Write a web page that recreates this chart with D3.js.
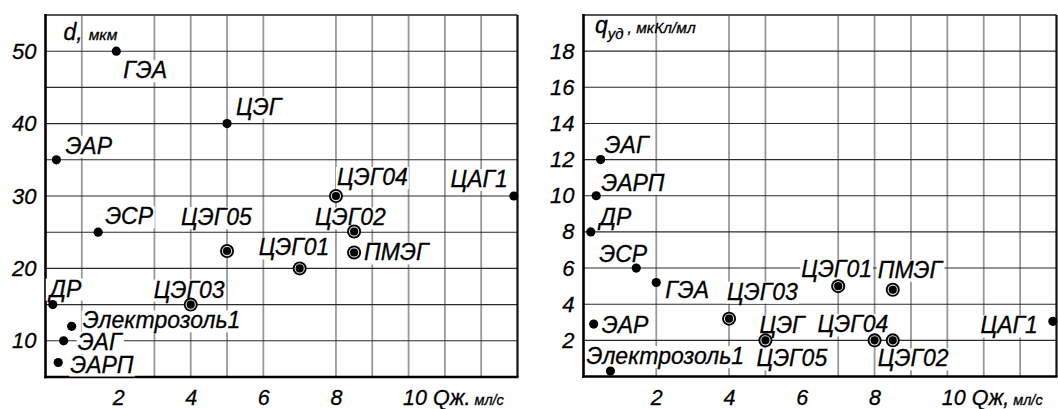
<!DOCTYPE html>
<html>
<head>
<meta charset="utf-8">
<script src="https://cdn.jsdelivr.net/npm/d3@7"></script>
<style>
  body { margin: 0; background: #fff; }
  svg text { font-family: "Liberation Sans", Arial, sans-serif; font-style: italic; fill: #000;
             stroke: #000; stroke-width: 0.3; }
</style>
</head>
<body>
<svg id="chart" width="1058" height="409"></svg>
<script>
// ---- Panel 1: droplet diameter d (мкм) vs liquid flow Qж (мл/с) ----
const diamNames  = ["ГЭА", "ЦЭГ", "ЭАР", "ЦЭГ04", "ЦАГ1", "ЭСР", "ЦЭГ05", "ДР", "ЦЭГ03",
                    "Электрозоль1", "ЭАГ", "ЭАРП", "ЦЭГ01", "ЦЭГ02", "ПМЭГ"];
const diamFlow   = [1.95, 5, 0.3, 8, 12.9, 1.45, 5, 0.2, 4, 0.72, 0.5, 0.35, 7, 8.5, 8.5];
const diamValues = [50, 40, 35, 30, 30, 25, 22.4, 15, 15, 12, 10, 7, 20, 25.1, 22.2];
const diamRinged = [false, false, false, true, false, false, true, false, true,
                    false, false, false, true, true, true];

// ---- Panel 2: specific charge q_уд (мкКл/мл) vs liquid flow Qж (мл/с) ----
const chargeNames  = ["ЭАГ", "ЭАРП", "ДР", "ЭСР", "ГЭА", "ЭАР", "Электрозоль1", "ЦЭГ03",
                      "ЦЭГ", "ЦЭГ05", "ЦЭГ01", "ПМЭГ", "ЦЭГ04", "ЦЭГ02", "ЦАГ1"];
const chargeFlow   = [0.47, 0.35, 0.2, 1.45, 2, 0.28, 0.74, 4, 5, 5, 7, 8.5, 8, 8.5, 12.9];
const chargeValues = [12, 10, 8, 6, 5.2, 2.9, 0.3, 3.2, 2, 2, 5, 4.8, 2, 2, 3.05];
const chargeRinged = [false, false, false, false, false, false, false, true,
                      false, true, true, true, true, true, false];

// axis ticks
const flowTicks   = [2, 4, 6, 8, 10];
const diamTicks   = [10, 20, 30, 40, 50];
const chargeTicks = [2, 4, 6, 8, 10, 12, 14, 16, 18];
// grid lines actually ruled on each sheet
const diamGridX   = [1, 3, 4, 5, 6, 8, 9, 10, 11, 12];
const diamGridY   = [10, 15, 20, 25, 30, 35, 40, 45, 50];
const chargeGridX = [2, 4, 5, 7, 8, 9, 10, 11, 12];
const chargeGridY = [2, 4, 6, 8, 10, 12, 14, 16, 18];

// label placement around each marker: [dx, dy, anchor]
const diamLabelPos = [
  [7, 27, "start"], [9, -9, "start"], [9, -6, "start"], [1, -11, "start"], [-6, -9, "end"],
  [7, -8, "start"], [-46, -26, "start"], [-3, -8, "start"], [-37, -7, "start"],
  [11, 2, "start"], [14, 9, "start"], [12, 10, "start"], [-41, -13, "start"],
  [-39, -6, "start"], [10, 8, "start"]
];
const chargeLabelPos = [
  [4, -7, "start"], [5, -5, "start"], [9, -7, "start"], [-37, -6, "start"], [9, 15, "start"],
  [8, 9, "start"], [-24, -7, "start"], [-2, -19, "start"], [-6, -7, "start"],
  [-9, 26, "start"], [-37, -9, "start"], [-15, -12, "start"], [-57, -8, "start"],
  [-15, 26, "start"], [-15, 12, "end"]
];

const svg = d3.select("#chart");

function panel(cfg) {
  const x = d3.scaleLinear().domain([0, 13]).range([cfg.left, cfg.right]);
  const y = d3.scaleLinear().domain(cfg.yDomain).range([cfg.bottom, cfg.top]);
  const g = svg.append("g");

  // grid
  g.append("g").selectAll("line").data(cfg.gridX).join("line")
    .attr("x1", d => x(d)).attr("x2", d => x(d))
    .attr("y1", cfg.top).attr("y2", cfg.bottom)
    .attr("stroke", "#999").attr("stroke-width", 1.8);
  g.append("g").selectAll("line").data(cfg.gridY).join("line")
    .attr("x1", cfg.left).attr("x2", cfg.right)
    .attr("y1", d => y(d)).attr("y2", d => y(d))
    .attr("stroke", "#2a2a2a").attr("stroke-width", 1.1);

  // frame
  g.append("line").attr("x1", cfg.left).attr("x2", cfg.right).attr("y1", cfg.top).attr("y2", cfg.top)
    .attr("stroke", "#555").attr("stroke-width", 1.8);
  g.append("line").attr("x1", cfg.right).attr("x2", cfg.right).attr("y1", cfg.top).attr("y2", cfg.bottom)
    .attr("stroke", "#111").attr("stroke-width", 2.2);
  g.append("line").attr("x1", cfg.left).attr("x2", cfg.left).attr("y1", cfg.top - 1).attr("y2", cfg.bottom + 1.2)
    .attr("stroke", "#000").attr("stroke-width", 2.6);
  g.append("line").attr("x1", cfg.left - 1.2).attr("x2", cfg.right + 1).attr("y1", cfg.bottom).attr("y2", cfg.bottom)
    .attr("stroke", "#000").attr("stroke-width", 2.6);

  // x axis labels
  const xAxis = g.append("g").attr("transform", `translate(0,${cfg.bottom})`)
    .call(d3.axisBottom(x).tickValues(flowTicks).tickSize(0).tickFormat(d3.format("d")));
  xAxis.select(".domain").remove();
  xAxis.selectAll("text").attr("font-size", 21.5).attr("fill", "#000")
    .attr("font-family", null).attr("dy", null).attr("y", 28);
  const last = xAxis.selectAll(".tick").filter(d => d === 10).select("text");
  last.attr("text-anchor", "start").attr("x", -6).text("10 ");
  last.append("tspan").text(cfg.qLabel);
  last.append("tspan").attr("font-size", 14.5).attr("dx", 4).text("мл/с");

  // y axis labels
  const yAxis = g.append("g").attr("transform", `translate(${cfg.left},0)`)
    .call(d3.axisLeft(y).tickValues(cfg.yTicks).tickSize(0).tickPadding(9).tickFormat(d3.format("d")));
  yAxis.select(".domain").remove();
  yAxis.selectAll("text").attr("font-size", 22).attr("fill", "#000").attr("font-family", null);

  // labels with white backing
  const labels = g.append("g");
  cfg.names.forEach((name, i) => {
    const [dx, dy, anchor] = cfg.labelPos[i];
    const lg = labels.append("g");
    const t = lg.append("text")
      .attr("x", x(cfg.flow[i]) + dx).attr("y", y(cfg.values[i]) + dy)
      .attr("text-anchor", anchor).attr("font-size", 23).text(name);
    const b = t.node().getBBox();
    lg.insert("rect", "text").attr("x", b.x - 1).attr("y", b.y + 3)
      .attr("width", b.width + 2).attr("height", b.height - 4).attr("fill", "#fff");
  });

  // markers
  const pts = d3.range(cfg.names.length);
  g.append("g").selectAll("circle").data(pts).join("circle")
    .attr("cx", i => x(cfg.flow[i])).attr("cy", i => y(cfg.values[i]))
    .attr("r", i => cfg.ringed[i] ? 7 : 4.6).attr("fill", "#000");
  g.append("g").selectAll("circle").data(pts.filter(i => cfg.ringed[i])).join("circle")
    .attr("cx", i => x(cfg.flow[i])).attr("cy", i => y(cfg.values[i]))
    .attr("r", 4.6).attr("fill", "none").attr("stroke", "#ddd").attr("stroke-width", 1.1);

  // axis title
  const title = g.append("text").attr("x", cfg.left + 18).attr("y", cfg.top + 25).attr("font-size", 23);
  cfg.title(title);
}

panel({
  left: 45.5, right: 517.5, top: 15, bottom: 377, yDomain: [5, 55],
  gridX: diamGridX, gridY: diamGridY, yTicks: diamTicks,
  names: diamNames, flow: diamFlow, values: diamValues, ringed: diamRinged,
  labelPos: diamLabelPos, qLabel: "Qж.",
  title: t => {
    t.append("tspan").text("d,");
    t.append("tspan").attr("font-size", 15.5).attr("dx", 6).text("мкм");
  }
});

panel({
  left: 583.5, right: 1056.5, top: 15, bottom: 376.5, yDomain: [0, 20],
  gridX: chargeGridX, gridY: chargeGridY, yTicks: chargeTicks,
  names: chargeNames, flow: chargeFlow, values: chargeValues, ringed: chargeRinged,
  labelPos: chargeLabelPos, qLabel: "Qж,",
  title: t => {
    t.attr("x", 595).attr("y", 33);
    t.append("tspan").text("q");
    t.append("tspan").attr("font-size", 15).attr("dy", 6).text("уд");
    t.append("tspan").attr("font-size", 15.5).attr("dy", -6).attr("dx", 4).text(", мкКл/мл");
  }
});
</script>
</body>
</html>
